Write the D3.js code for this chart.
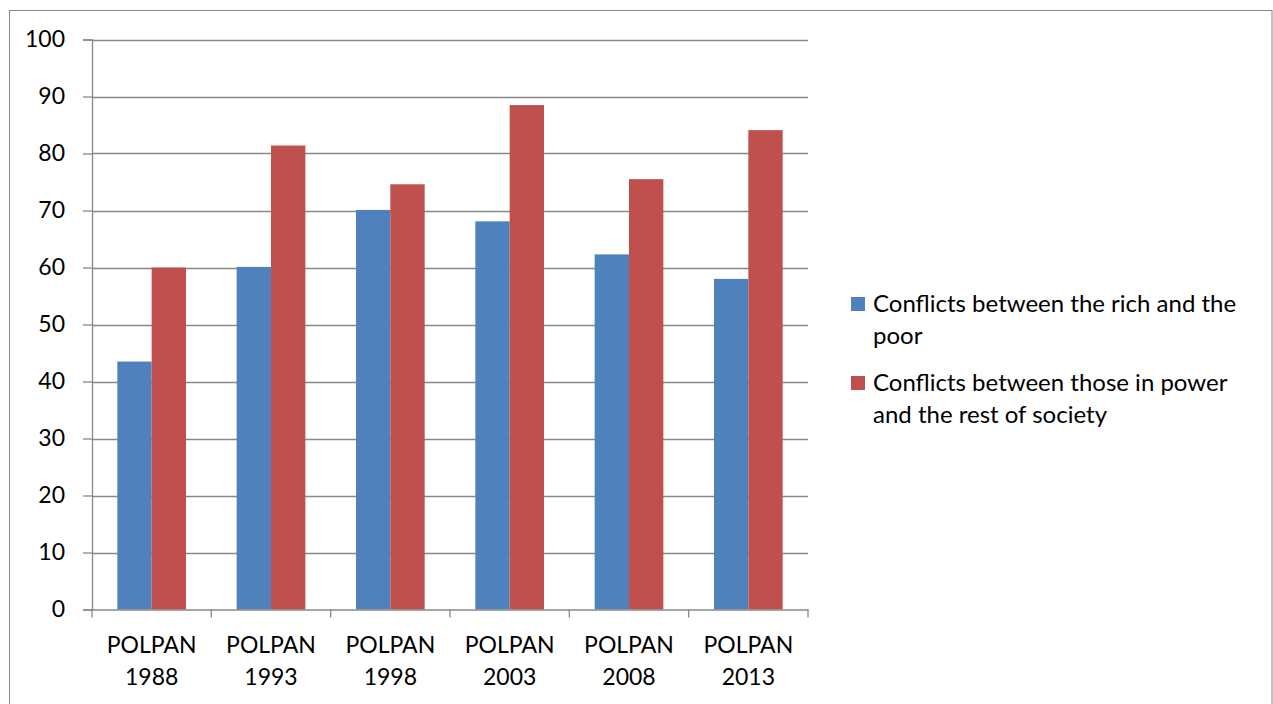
<!DOCTYPE html>
<html>
<head>
<meta charset="utf-8">
<script src="https://cdn.jsdelivr.net/npm/d3@7"></script>
<style>
    body { margin: 0; background: #fff; }
    text { font-family: Lato, "Open Sans", sans-serif; fill: #000; }
</style>
</head>
<body>
<div id="chart"></div>
<script>
// data
const categories = ["POLPAN 1988", "POLPAN 1993", "POLPAN 1998", "POLPAN 2003", "POLPAN 2008", "POLPAN 2013"];
const seriesNames = ["Conflicts between the rich and the poor", "Conflicts between those in power and the rest of society"];
const richPoor = [43.5, 60.1, 70.1, 68.1, 62.3, 58.0];
const powerRest = [60.0, 81.4, 74.6, 88.5, 75.5, 84.1];
const yTicks = [0, 10, 20, 30, 40, 50, 60, 70, 80, 90, 100];
const colors = ["#4F81BD", "#C0504D"];

const W = 1273, H = 704;
const plot = {left: 92, right: 808, top: 39.5, bottom: 609.5};

const svg = d3.select("#chart").append("svg")
    .attr("width", W)
    .attr("height", H);

// outer chart border
svg.append("rect")
    .attr("x", 9.5).attr("y", 10.5)
    .attr("width", 1262.5).attr("height", 720)
    .attr("fill", "none")
    .attr("stroke", "#868686")
    .attr("stroke-width", 1);

const x = d3.scaleBand()
    .domain(categories)
    .range([plot.left, plot.right])
    .paddingInner(0)
    .paddingOuter(0);

const y = d3.scaleLinear()
    .domain([0, 100])
    .range([plot.bottom, plot.top]);

const inner = d3.scaleBand()
    .domain([0, 1])
    .range([0, x.bandwidth()])
    .paddingInner(0)
    .paddingOuter(0.737);

// gridlines
svg.append("g")
    .selectAll("line")
    .data(yTicks.filter(d => d > 0))
    .enter().append("line")
    .attr("x1", plot.left).attr("x2", plot.right)
    .attr("y1", d => Math.round(y(d)) + 0.5)
    .attr("y2", d => Math.round(y(d)) + 0.5)
    .attr("stroke", "#888")
    .attr("stroke-width", 1.3);

// bars
const series = [richPoor, powerRest];
series.forEach((vals, si) => {
    svg.append("g")
        .selectAll("rect")
        .data(vals)
        .enter().append("rect")
        .attr("x", (d, i) => x(categories[i]) + inner(si))
        .attr("y", d => y(d))
        .attr("width", inner.bandwidth())
        .attr("height", d => y(0) - y(d))
        .attr("fill", colors[si]);
});

// y axis
const yAxis = svg.append("g")
    .attr("transform", `translate(${plot.left},0)`)
    .call(d3.axisLeft(y).tickValues(yTicks).tickSize(9).tickPadding(18));
yAxis.select(".domain").attr("stroke", "#888").attr("stroke-width", 1.3);
yAxis.selectAll(".tick line").attr("stroke", "#888").attr("stroke-width", 1.3);
yAxis.selectAll("text").style("font-size", "23px").attr("fill", "#000")
    .style("font-family", "Lato, sans-serif");

// x axis
const xAxis = svg.append("g")
    .attr("transform", `translate(0,${plot.bottom})`)
    .call(d3.axisBottom(x).tickSize(0).tickFormat(""));
xAxis.select(".domain").attr("stroke", "#888").attr("stroke-width", 1.3);

const xBounds = categories.map(c => x(c)).concat([plot.right]);
svg.append("g")
    .selectAll("line")
    .data(xBounds)
    .enter().append("line")
    .attr("x1", d => d).attr("x2", d => d)
    .attr("y1", plot.bottom).attr("y2", plot.bottom + 8)
    .attr("stroke", "#888")
    .attr("stroke-width", 1.3);

const xLabels = svg.append("g")
    .selectAll("text")
    .data(categories)
    .enter().append("text")
    .attr("text-anchor", "middle")
    .style("font-size", "23px");
xLabels.each(function(d) {
    const parts = d.split(" ");
    const t = d3.select(this);
    parts.forEach((p, k) => {
        t.append("tspan")
            .attr("x", x(d) + x.bandwidth() / 2)
            .attr("y", 653 + k * 32)
            .text(p);
    });
});

// legend
function wrapText(textSel, str, maxW, x0, y0, lineH) {
    const words = str.split(" ");
    let line = [];
    let row = 0;
    let tspan = textSel.append("tspan").attr("x", x0).attr("y", y0);
    words.forEach(w => {
        line.push(w);
        tspan.text(line.join(" "));
        if (tspan.node().getComputedTextLength() > maxW && line.length > 1) {
            line.pop();
            tspan.text(line.join(" "));
            line = [w];
            row++;
            tspan = textSel.append("tspan").attr("x", x0).attr("y", y0 + row * lineH).text(w);
        }
    });
}

const legendTop = [297, 376];
seriesNames.forEach((name, si) => {
    const g = svg.append("g");
    g.append("rect")
        .attr("x", 851).attr("y", legendTop[si])
        .attr("width", 14).attr("height", 14)
        .attr("fill", colors[si]);
    const t = g.append("text").style("font-size", "24px");
    wrapText(t, name, 375, 873, legendTop[si] + 15, 32);
});
</script>
</body>
</html>
